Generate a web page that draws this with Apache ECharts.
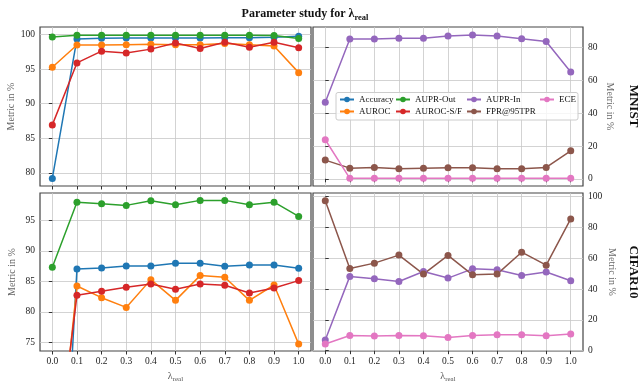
<!DOCTYPE html>
<html>
<head>
<meta charset="utf-8">
<script src="https://cdn.jsdelivr.net/npm/echarts@6/dist/echarts.min.js"></script>
<style>
html, body { margin: 0; padding: 0; background: #fff; }
#chart { width: 644px; height: 388px; }
</style>
</head>
<body>
<div id="chart"></div>
<script>
// lambda_real values on the x axis
const lambdas = [0.0, 0.1, 0.2, 0.3, 0.4, 0.5, 0.6, 0.7, 0.8, 0.9, 1.0];
const xTicks = [0.0, 0.1, 0.2, 0.3, 0.4, 0.5, 0.6, 0.7, 0.8, 0.9, 1.0];

// MNIST, left panel
const mnistAccuracy = [79.2, 99.37, 99.47, 99.5, 99.5, 99.5, 99.5, 99.55, 99.55, 99.6, 99.75];
const mnistAuroc    = [95.28, 98.5, 98.5, 98.55, 98.6, 98.55, 98.55, 98.7, 98.55, 98.35, 94.5];
const mnistAuprOut  = [99.66, 99.9, 99.9, 99.9, 99.9, 99.9, 99.9, 99.9, 99.9, 99.88, 99.45];
const mnistAurocSF  = [86.94, 95.9, 97.6, 97.35, 97.9, 98.8, 97.98, 98.9, 98.17, 98.9, 98.1];
// MNIST, right panel
const mnistAuprIn   = [46.7, 85.3, 85.3, 85.7, 85.7, 87.1, 87.7, 87.1, 85.5, 83.7, 65.2];
const mnistFpr95    = [11.4, 6.5, 6.9, 6.1, 6.5, 6.7, 6.7, 6.1, 6.1, 6.9, 17.1];
const mnistEce      = [23.8, 0.3, 0.3, 0.3, 0.3, 0.3, 0.3, 0.3, 0.3, 0.3, 0.3];

// CIFAR10, left panel
const cifarAccuracy = [14.0, 87.05, 87.22, 87.55, 87.55, 87.99, 87.99, 87.5, 87.71, 87.71, 87.16];
const cifarAuroc    = [46.0, 84.26, 82.34, 80.75, 85.3, 81.9, 85.96, 85.68, 81.9, 84.42, 74.73];
const cifarAuprOut  = [87.33, 98.0, 97.74, 97.47, 98.23, 97.58, 98.29, 98.29, 97.58, 98.0, 95.66];
const cifarAurocSF  = [50.0, 82.73, 83.38, 84.04, 84.59, 83.71, 84.59, 84.37, 83.11, 83.93, 85.14];
// CIFAR10, right panel
const cifarAuprIn   = [6.9, 48.2, 46.7, 44.9, 51.4, 47.1, 53.1, 52.5, 48.8, 51.0, 45.4];
const cifarFpr95    = [97.2, 53.3, 56.8, 62.0, 49.7, 61.8, 49.2, 49.7, 63.9, 55.5, 85.5];
const cifarEce      = [4.3, 9.9, 9.5, 9.9, 9.7, 8.6, 9.9, 10.4, 10.4, 9.7, 10.8];

// y tick labels per panel
const yTicksTL = [80, 85, 90, 95, 100];
const yTicksTR = [0, 20, 40, 60, 80];
const yTicksBL = [75, 80, 85, 90, 95];
const yTicksBR = [0, 20, 40, 60, 80, 100];

const colors = {
    'Accuracy': '#1f77b4',
    'AUROC': '#ff7f0e',
    'AUPR-Out': '#2ca02c',
    'AUROC-S/F': '#d62728',
    'AUPR-In': '#9467bd',
    'FPR@95TPR': '#8c564b',
    'ECE': '#e377c2'
};

const FONT = "'Liberation Serif', 'DejaVu Serif', serif";
const GRID_COLOR = '#c8c8c8';

function line(name, values, idx) {
    return {
        type: 'line',
        name: name,
        xAxisIndex: idx,
        yAxisIndex: idx,
        data: lambdas.map(function (x, i) { return [x, values[i]]; }),
        symbol: 'circle',
        symbolSize: 7,
        clip: true,
        lineStyle: { width: 1.5, color: colors[name] },
        itemStyle: { color: colors[name] },
        emphasis: { disabled: true }
    };
}

function xAxis(idx, showLabels) {
    return {
        type: 'value',
        gridIndex: idx,
        min: -0.05,
        max: 1.05,
        axisLine: { show: false },
        axisTick: { show: true, length: 3.5, customValues: xTicks, lineStyle: { color: '#333' } },
        axisLabel: {
            show: showLabels, customValues: xTicks, margin: 5,
            fontFamily: FONT, fontSize: 9.5, color: '#222',
            formatter: function (v) { return v.toFixed(1); }
        },
        splitLine: { show: true, lineStyle: { color: GRID_COLOR, width: 0.8 } },
        name: showLabels ? '{l|λ}{s|real}' : '',
        nameLocation: 'middle',
        nameGap: 19,
        nameTextStyle: {
            rich: {
                l: { fontFamily: FONT, fontSize: 10, color: '#555' },
                s: { fontFamily: FONT, fontSize: 7, color: '#555', verticalAlign: 'bottom', padding: [6, 0, 0, 0] }
            }
        }
    };
}

function yAxis(idx, min, max, ticks, right) {
    return {
        type: 'value',
        gridIndex: idx,
        min: min,
        max: max,
        position: right ? 'right' : 'left',
        axisLine: { show: false },
        axisTick: { show: true, length: 3.5, customValues: ticks, lineStyle: { color: '#333' } },
        axisLabel: {
            customValues: ticks, margin: 5,
            fontFamily: FONT, fontSize: 9.5, color: '#222'
        },
        splitLine: { show: true, lineStyle: { color: GRID_COLOR, width: 0.8 } },
        name: 'Metric in %',
        nameLocation: 'middle',
        nameRotate: right ? -90 : 90,
        nameGap: right ? 22 : 23,
        nameTextStyle: { fontFamily: FONT, fontSize: 10, color: '#666' }
    };
}

function grid(left, top, width, height) {
    return {
        left: left, top: top, width: width, height: height,
        show: true, borderColor: '#444', borderWidth: 1.2, backgroundColor: 'transparent'
    };
}

function legendCol(left, names) {
    return {
        orient: 'vertical',
        left: left,
        top: 94,
        padding: 0,
        itemGap: 1,
        itemWidth: 14,
        itemHeight: 7,
        selectedMode: false,
        data: names,
        textStyle: { fontFamily: FONT, fontSize: 9, color: '#111', lineHeight: 11 }
    };
}

const option = {
    animation: false,
    backgroundColor: '#fff',
    grid: [
        grid(40, 27, 271, 159),
        grid(313, 27, 270, 159),
        grid(40, 193, 271, 158),
        grid(313, 193, 270, 158)
    ],
    xAxis: [xAxis(0, false), xAxis(1, false), xAxis(2, true), xAxis(3, true)],
    yAxis: [
        yAxis(0, 78.1, 101.1, yTicksTL, false),
        yAxis(1, -4.4, 92.6, yTicksTR, true),
        yAxis(2, 73.6, 99.5, yTicksBL, false),
        yAxis(3, -0.2, 102.3, yTicksBR, true)
    ],
    legend: [
        legendCol(339, ['Accuracy', 'AUROC']),
        legendCol(395, ['AUPR-Out', 'AUROC-S/F']),
        legendCol(466, ['AUPR-In', 'FPR@95TPR']),
        legendCol(539, ['ECE'])
    ],
    graphic: [
        {
            type: 'rect', z: 3,
            shape: { x: 336, y: 92.5, width: 242, height: 27.5, r: 2 },
            style: { fill: 'rgba(255,255,255,0.8)', stroke: '#cccccc', lineWidth: 1 }
        },
        {
            type: 'text', z: 10,
            style: {
                x: 305, y: 14, align: 'center', verticalAlign: 'middle',
                text: '{t|Parameter study for λ}{s|real}',
                rich: {
                    t: { fontFamily: FONT, fontSize: 12, fontWeight: 'bold', fill: '#111' },
                    s: { fontFamily: FONT, fontSize: 8.5, fontWeight: 'bold', fill: '#111', verticalAlign: 'bottom', padding: [8, 0, 0, 0] }
                }
            }
        },
        {
            type: 'text', z: 10, x: 633, y: 106, rotation: -Math.PI / 2,
            style: { text: 'MNIST', align: 'center', verticalAlign: 'middle', font: 'bold 13px ' + FONT, fill: '#111' }
        },
        {
            type: 'text', z: 10, x: 633, y: 272, rotation: -Math.PI / 2,
            style: { text: 'CIFAR10', align: 'center', verticalAlign: 'middle', font: 'bold 13px ' + FONT, fill: '#111' }
        }
    ],
    series: [
        line('Accuracy', mnistAccuracy, 0),
        line('AUROC', mnistAuroc, 0),
        line('AUPR-Out', mnistAuprOut, 0),
        line('AUROC-S/F', mnistAurocSF, 0),
        line('AUPR-In', mnistAuprIn, 1),
        line('FPR@95TPR', mnistFpr95, 1),
        line('ECE', mnistEce, 1),
        line('Accuracy', cifarAccuracy, 2),
        line('AUROC', cifarAuroc, 2),
        line('AUPR-Out', cifarAuprOut, 2),
        line('AUROC-S/F', cifarAurocSF, 2),
        line('AUPR-In', cifarAuprIn, 3),
        line('FPR@95TPR', cifarFpr95, 3),
        line('ECE', cifarEce, 3)
    ]
};

let chart = echarts.init(document.getElementById('chart'), null, { renderer: 'canvas' });
chart.setOption(option);
</script>
</body>
</html>
